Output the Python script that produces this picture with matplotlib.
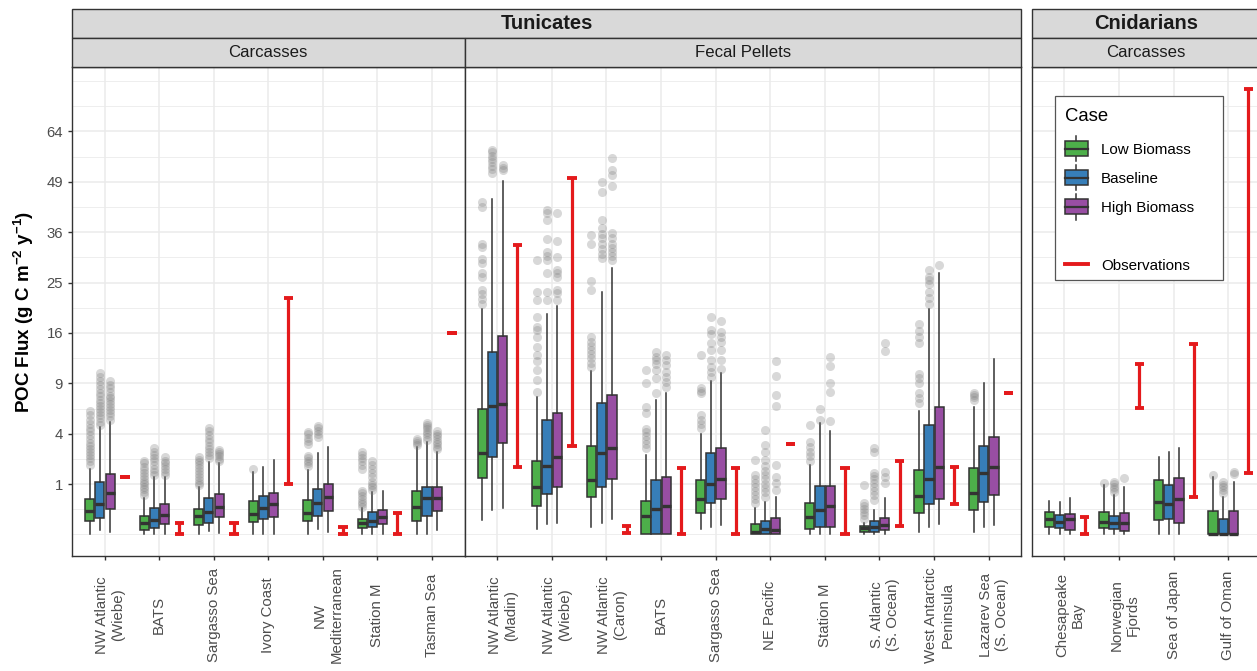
import numpy as np
import matplotlib
matplotlib.use("Agg")
import matplotlib.pyplot as plt
from matplotlib.patches import Rectangle, Patch
from matplotlib.lines import Line2D
from matplotlib.legend_handler import HandlerBase

plt.rcParams['font.family'] = ['Liberation Sans', 'DejaVu Sans']
plt.rcParams['mathtext.fontset'] = 'custom'
plt.rcParams['mathtext.rm'] = 'Liberation Sans'
plt.rcParams['mathtext.bf'] = 'Liberation Sans:bold'
plt.rcParams['mathtext.it'] = 'Liberation Sans:italic'

# ---------------- data ----------------
cases = ["Low Biomass", "Baseline", "High Biomass"]
case_colors = ["#4DAF4A", "#377EB8", "#984EA3"]
obs_label = "Observations"
y_breaks = [1, 4, 9, 16, 25, 36, 49, 64]

# Tunicates - Carcasses
tc_sites = ["NW Atlantic\n(Wiebe)", "BATS", "Sargasso Sea", "Ivory Coast",
            "NW\nMediterranean", "Station M", "Tasman Sea"]
# (whisker low, q1, median, q3, whisker high)
tc_low = [(0.0, 0.07, 0.22, 0.49, 1.69), (0.0, 0.008, 0.05, 0.135, 0.53),
          (0.0, 0.035, 0.14, 0.26, 0.90), (0.0, 0.065, 0.17, 0.44, 1.52),
          (0.0, 0.075, 0.19, 0.47, 1.64), (0.0, 0.015, 0.055, 0.09, 0.27),
          (0.0, 0.07, 0.30, 0.75, 3.0)]
tc_low_out = [[1.9, 2.1, 2.3, 2.5, 2.7, 2.9, 3.1, 3.3, 3.6, 3.9, 4.2, 4.5, 4.8, 5.2, 5.6, 6.0],
              [0.6, 0.7, 0.8, 0.9, 1.0, 1.1, 1.2, 1.35, 1.5, 1.65, 1.8, 2.0, 2.15],
              [0.95, 1.05, 1.15, 1.3, 1.45, 1.6, 1.75, 1.9, 2.05, 2.2, 2.35],
              [1.70],
              [1.85, 2.0, 2.15, 2.3, 2.45, 3.2, 3.45, 3.7, 3.95, 4.15],
              [0.3, 0.36, 0.42, 0.5, 0.58, 0.67, 0.75, 1.7, 1.9, 2.1, 2.3, 2.5, 2.7],
              [3.15, 3.3, 3.45, 3.6]]
tc_base = [(0.008, 0.107, 0.37, 1.085, 4.52), (0.0, 0.018, 0.079, 0.276, 1.3),
           (0.006, 0.055, 0.20, 0.533, 2.09), (0.0, 0.09, 0.27, 0.58, 1.78),
           (0.01, 0.14, 0.38, 0.815, 2.6), (0.0, 0.024, 0.075, 0.205, 0.72),
           (0.0, 0.135, 0.52, 0.90, 3.39)]
tc_base_out = [[4.7, 5.0, 5.3, 5.6, 5.9, 6.2, 6.5, 6.8, 7.1, 7.5, 7.9, 8.3, 8.8, 9.3, 9.8, 10.3],
               [1.4, 1.55, 1.7, 1.9, 2.1, 2.3, 2.5, 2.7, 2.95],
               [2.3, 2.5, 2.7, 2.9, 3.1, 3.35, 3.6, 3.9, 4.2, 4.45],
               [],
               [3.75, 4.0, 4.25, 4.5, 4.6],
               [0.78, 0.88, 0.98, 1.08, 1.3, 1.5, 1.7, 1.9, 2.1],
               [3.55, 3.75, 3.95, 4.15, 4.35, 4.55, 4.75, 4.9]]
tc_high = [(0.003, 0.26, 0.69, 1.44, 5.0), (0.0, 0.043, 0.15, 0.36, 1.31),
           (0.001, 0.125, 0.30, 0.64, 2.0), (0.0, 0.116, 0.36, 0.69, 2.19),
           (0.003, 0.22, 0.545, 1.0, 2.99), (0.0, 0.043, 0.125, 0.236, 0.745),
           (0.008, 0.22, 0.52, 0.90, 2.70)]
tc_high_out = [[5.2, 5.5, 5.8, 6.1, 6.4, 6.7, 7.0, 7.3, 7.6, 8.0, 8.4, 8.8, 9.3],
               [1.4, 1.55, 1.7, 1.85, 2.0, 2.15, 2.35],
               [2.1, 2.25, 2.4, 2.55, 2.7, 2.8],
               [], [], [],
               [2.85, 3.0, 3.2, 3.4, 3.6, 3.8, 4.0, 4.2]]
tc_obs_lo = [1.3, 0.0, 0.0, 1.0, 0.0, 0.0, 16.0]
tc_obs_hi = [1.3, 0.055, 0.055, 22.0, 0.02, 0.19, 16.0]

# Tunicates - Fecal Pellets
fp_sites = ["NW Atlantic\n(Madin)", "NW Atlantic\n(Wiebe)", "NW Atlantic\n(Caron)", "BATS",
            "Sargasso Sea", "NE Pacific", "Station M", "S. Atlantic\n(S. Ocean)",
            "West Antarctic\nPeninsula", "Lazarev Sea\n(S. Ocean)"]
fp_low = [(0.083, 1.24, 2.6, 6.17, 20.1), (0.011, 0.32, 0.88, 2.14, 7.48),
          (0.024, 0.56, 1.17, 3.10, 10.56), (0.0, 0.0, 0.14, 0.44, 2.49),
          (0.012, 0.19, 0.49, 1.17, 3.98), (0.0, 0.0, 0.003, 0.043, 0.27),
          (0.0, 0.011, 0.116, 0.383, 1.90), (0.0, 0.002, 0.017, 0.028, 0.055),
          (0.003, 0.187, 0.59, 1.64, 6.0), (0.003, 0.236, 0.67, 1.725, 6.43)]
fp_low_out = [[21.0, 21.8, 22.8, 23.6, 26.2, 27.0, 29.0, 29.8, 32.5, 33.3, 42.2, 43.5],
              [8.0, 9.4, 10.7, 11.8, 12.7, 13.9, 15.4, 16.4, 16.9, 18.7, 21.6, 23.2, 29.7],
              [11.0, 11.6, 12.2, 12.8, 13.4, 14.0, 14.6, 15.3, 23.6, 25.3, 33.2, 35.2],
              [2.95, 3.2, 3.5, 3.8, 4.1, 4.4, 5.8, 6.4, 9.0, 10.65],
              [4.45, 4.8, 5.2, 5.6, 7.85, 8.1, 8.4, 12.7],
              [0.38, 0.5, 0.62, 0.75, 0.9, 1.05, 1.2, 1.39, 2.19],
              [2.1, 2.4, 2.7, 3.0, 3.35, 4.7],
              [0.1, 0.15, 0.2, 0.26, 0.32, 0.38, 0.96],
              [6.8, 7.3, 7.85, 9.0, 9.6, 10.2, 14.4, 15.3, 16.3, 17.5],
              [7.1, 7.4, 7.7, 7.85]]
fp_base = [(0.236, 2.38, 6.5, 13.15, 44.2), (0.041, 0.646, 1.86, 5.16, 19.1),
           (0.049, 0.90, 2.6, 6.84, 23.1), (0.0, 0.0, 0.25, 1.17, 7.12),
           (0.024, 0.40, 0.99, 2.6, 9.31), (0.0, 0.0, 0.011, 0.075, 0.42),
           (0.0, 0.024, 0.236, 0.926, 4.87), (0.0, 0.003, 0.020, 0.075, 0.236),
           (0.02, 0.36, 1.2, 4.72, 20.0), (0.02, 0.424, 1.5, 3.08, 9.07)]
fp_base_out = [[51.5, 52.5, 53.5, 54.5, 55.5, 56.5, 57.5, 58.2],
               [21.6, 23.2, 26.9, 29.7, 30.6, 31.5, 34.3, 38.9, 40.7, 41.4],
               [30.0, 31.0, 32.2, 33.3, 34.5, 35.5, 36.9, 39.0, 46.3, 49.0],
               [7.85, 9.6, 10.7, 11.5, 12.0, 12.45, 13.15],
               [9.8, 10.4, 11.1, 12.0, 13.4, 14.4, 15.9, 16.5, 18.7],
               [0.56, 0.7, 0.85, 1.0, 1.2, 1.4, 1.6, 1.85, 2.19, 2.7, 3.15, 4.3],
               [5.2, 6.2],
               [0.47, 0.6, 0.75, 0.9, 1.05, 1.2, 1.35, 1.47, 2.7, 2.92],
               [21.0, 22.0, 23.2, 24.8, 25.5, 26.2, 27.5],
               []]
fp_high = [(0.27, 3.27, 6.7, 15.5, 49.3), (0.049, 0.90, 2.38, 5.84, 20.55),
           (0.091, 1.20, 2.93, 7.66, 27.9), (0.0, 0.0, 0.327, 1.315, 7.85),
           (0.0355, 0.496, 1.20, 2.93, 10.23), (0.0, 0.0, 0.008, 0.103, 0.5625),
           (0.0, 0.024, 0.32, 0.926, 4.24), (0.0, 0.008, 0.0355, 0.103, 0.516),
           (0.041, 0.49, 1.81, 6.43, 26.86), (0.0355, 0.614, 1.81, 3.765, 12.17)]
fp_high_out = [[52.3, 53.0, 53.7],
               [21.7, 22.9, 23.5, 26.2, 27.0, 27.5, 30.4, 33.8, 40.6],
               [29.7, 30.6, 31.5, 32.4, 33.3, 34.5, 35.7, 47.8, 50.9, 52.4, 55.7],
               [8.6, 9.2, 9.8, 10.4, 11.3, 12.0, 12.7],
               [10.8, 12.0, 13.4, 14.6, 15.4, 16.2, 18.0],
               [0.78, 1.03, 1.3, 1.9, 6.5, 7.66, 9.9, 11.8],
               [5.1, 8.0, 9.0, 11.2, 12.4],
               [1.03, 1.3, 1.55, 13.2, 14.4],
               [28.6],
               []]
fp_obs_lo = [1.8, 3.1, 0.001, 0.0, 0.0, 3.2, 0.0, 0.03, 0.37, 7.9]
fp_obs_hi = [33.0, 50.0, 0.028, 1.72, 1.72, 3.2, 1.75, 2.13, 1.81, 7.9]

# Cnidarians - Carcasses
cn_sites = ["Chesapeake\nBay", "Norwegian\nFjords", "Sea of Japan", "Gulf of Oman"]
cn_low = [(0.0, 0.020, 0.091, 0.194, 0.442), (0.0, 0.015, 0.0645, 0.205, 0.95),
          (0.0, 0.083, 0.424, 1.169, 2.35), (0.0, 0.0, 0.0, 0.223, 1.3)]
cn_low_out = [[], [1.03], [], [1.39]]
cn_base = [(0.0, 0.015, 0.0645, 0.150, 0.408), (0.0, 0.011, 0.049, 0.139, 0.614),
           (0.0, 0.091, 0.359, 0.965, 2.70), (0.0, 0.0, 0.0, 0.091, 0.5625)]
cn_base_out = [[], [0.7, 0.8, 0.9, 1.0, 1.1], [], [0.67, 0.77, 0.87, 0.98, 1.1]]
cn_high = [(0.0, 0.008, 0.091, 0.165, 0.516), (0.0, 0.006, 0.055, 0.187, 0.90),
           (0.0, 0.049, 0.488, 1.243, 2.925), (0.0, 0.0, 0.0, 0.223, 1.10)]
cn_high_out = [[], [1.24], [], [1.45, 1.55]]
cn_obs_lo = [0.0, 6.3, 0.56, 1.5]
cn_obs_hi = [0.125, 11.4, 14.3, 78.0]

# ---------------- styling ----------------
W, H = 1257, 671
EDGE = "#333333"
RED = "#E41A1C"
GRID = "#EBEBEB"
TXT = "#4D4D4D"
box_offsets = [-0.275, -0.09, 0.10]
obs_offset = 0.37
box_w = 0.17


def fx(px):
    return px / W


def fy(py):
    return 1 - py / H


def fwd(x):
    x = np.asarray(x, dtype=float)
    return np.sign(x) * np.sqrt(np.abs(x))


def inv(y):
    y = np.asarray(y, dtype=float)
    return np.sign(y) * y ** 2


fig = plt.figure(figsize=(W / 100, H / 100), dpi=100)
fig.patch.set_facecolor("white")

P_TOP, P_BOT = 67, 556
panel_x = [(72, 464.5), (464.5, 1021.3), (1031.7, 1260.8)]
panel_data = [
    (tc_sites, [tc_low, tc_base, tc_high], [tc_low_out, tc_base_out, tc_high_out], tc_obs_lo, tc_obs_hi),
    (fp_sites, [fp_low, fp_base, fp_high], [fp_low_out, fp_base_out, fp_high_out], fp_obs_lo, fp_obs_hi),
    (cn_sites, [cn_low, cn_base, cn_high], [cn_low_out, cn_base_out, cn_high_out], cn_obs_lo, cn_obs_hi),
]

minor_sq = np.arange(0, 9.01, 0.5)
minor_breaks = [float(v * v) for v in minor_sq if abs(v - round(v)) > 1e-9 or v in (0.0, 9.0)]

axes = []
for pi, ((x0, x1), (sites, stats, outs, olo, ohi)) in enumerate(zip(panel_x, panel_data)):
    ax = fig.add_axes([fx(x0), fy(P_BOT), (x1 - x0) / W, (P_BOT - P_TOP) / H])
    axes.append(ax)
    ax.set_yscale("function", functions=(fwd, inv))
    n = len(sites)
    ax.set_xlim(-0.6, n - 1 + 0.6)
    ax.set_ylim(-(0.4266 ** 2), 9.276 ** 2)
    ax.set_yticks(y_breaks)
    ax.set_yticks(minor_breaks, minor=True)
    ax.set_xticks(np.arange(n))
    ax.set_axisbelow(True)
    ax.grid(True, which="major", axis="both", color=GRID, lw=1.1)
    ax.grid(True, which="minor", axis="y", color=GRID, lw=0.6)

    for k in range(3):
        st = [dict(whislo=s[0], q1=s[1], med=s[2], q3=s[3], whishi=s[4], fliers=o)
              for s, o in zip(stats[k], outs[k])]
        pos = np.arange(n) + box_offsets[k]
        ax.bxp(st, positions=pos, widths=box_w, patch_artist=True, showcaps=False,
               manage_ticks=False,
               boxprops=dict(facecolor=case_colors[k], edgecolor=EDGE, linewidth=1.1),
               medianprops=dict(color=EDGE, linewidth=2.4, solid_capstyle="butt"),
               whiskerprops=dict(color=EDGE, linewidth=1.1),
               flierprops=dict(marker="o", markerfacecolor="#7F7F7F", markeredgecolor="none",
                               markersize=6.5, alpha=0.3))

    xo = np.arange(n) + obs_offset
    ax.vlines(xo, olo, ohi, color=RED, lw=2.3, zorder=4)
    ax.hlines(olo, xo - box_w / 2, xo + box_w / 2, color=RED, lw=2.8, zorder=4, capstyle="butt")
    ax.hlines(ohi, xo - box_w / 2, xo + box_w / 2, color=RED, lw=2.8, zorder=4, capstyle="butt")

    for sp in ax.spines.values():
        sp.set_color(EDGE)
        sp.set_linewidth(1.0)

    ax.set_xticklabels([])
    ax.tick_params(axis="x", which="major", length=2.9, width=1.0, color=EDGE)
    for i, lab in enumerate(sites):
        dx = 4.0 if "\n" in lab else 0.0
        ax.annotate(lab, xy=(i, 0), xycoords=("data", "axes fraction"),
                    xytext=(dx, -42.5), textcoords="offset points",
                    rotation=90, ha="center", va="center", multialignment="center",
                    fontsize=10.8, color=TXT, annotation_clip=False)
    ax.tick_params(axis="y", which="minor", length=0)
    if pi == 0:
        ax.set_yticklabels([str(v) for v in y_breaks], fontsize=10.7, color=TXT)
        ax.tick_params(axis="y", which="major", length=2.9, width=1.0, color=EDGE, pad=3.5)
    else:
        ax.tick_params(axis="y", which="major", length=0, labelleft=False)

# ---------------- strips ----------------
def strip(x0, x1, y0, y1, text, bold, size):
    fig.add_artist(Rectangle((fx(x0), fy(y1)), (x1 - x0) / W, (y1 - y0) / H,
                             transform=fig.transFigure, facecolor="#D9D9D9",
                             edgecolor=EDGE, lw=1.0, zorder=3))
    fig.text(fx((x0 + x1) / 2), fy((y0 + y1) / 2), text, ha="center", va="center",
             fontsize=size, fontweight="bold" if bold else "normal", color="#1A1A1A", zorder=4)


strip(72, 1021.3, 8.5, 38, "Tunicates", True, 14.5)
strip(1031.7, 1260.8, 9.0, 38, "Cnidarians", True, 14.5)
strip(72, 464.5, 38, 67, "Carcasses", False, 12.1)
strip(464.5, 1021.3, 38, 67, "Fecal Pellets", False, 12.1)
strip(1031.7, 1260.8, 38, 67, "Carcasses", False, 12.1)

# ---------------- axis title ----------------
fig.text(fx(24), fy(311.5), r"POC Flux (g C m$^{\mathbf{-2}}$ y$^{\mathbf{-1}}$)",
         rotation=90, ha="center", va="center", fontsize=13.5, fontweight="bold", color="black")

# ---------------- legend ----------------
class HandlerBox(HandlerBase):
    def create_artists(self, legend, orig_handle, xdescent, ydescent, width, height, fontsize, trans):
        x0, y0 = -xdescent, -ydescent
        cx = x0 + width / 2
        ext = 0.35 * height
        return [
            Line2D([cx, cx], [y0 - ext, y0 + height + ext], color=EDGE, lw=1.1, transform=trans),
            Rectangle((x0, y0), width, height, facecolor=orig_handle.get_facecolor(),
                      edgecolor=EDGE, lw=1.1, transform=trans),
            Line2D([x0, x0 + width], [y0 + height / 2] * 2, color=EDGE, lw=1.6, transform=trans),
        ]


handles = [Patch(facecolor=c) for c in case_colors]
handles += [Line2D([], [], linestyle="none"), Line2D([], [], color=RED, lw=2.8)]
labels = cases + ["", obs_label]

fig.add_artist(Rectangle((fx(1055), fy(280)), 168 / W, 184 / H, transform=fig.transFigure,
                         facecolor="white", edgecolor="#555555", lw=0.9, zorder=4))
LEG_FS = 10.9
LEG_LS = 0.89
leg = fig.legend(handles, labels, handler_map={Patch: HandlerBox()}, loc="upper left",
                 bbox_to_anchor=(fx(1055), fy(98)), bbox_transform=fig.transFigure,
                 borderaxespad=0, frameon=False, fontsize=LEG_FS, title="Case",
                 title_fontsize=13.3, alignment="left", handlelength=1.52, handleheight=1.15,
                 handletextpad=0.86, labelspacing=LEG_LS, borderpad=0.65)
leg._legend_box.sep = LEG_LS * LEG_FS + 2.0
leg.set_zorder(5)

fig.savefig("out.png", dpi=100)
